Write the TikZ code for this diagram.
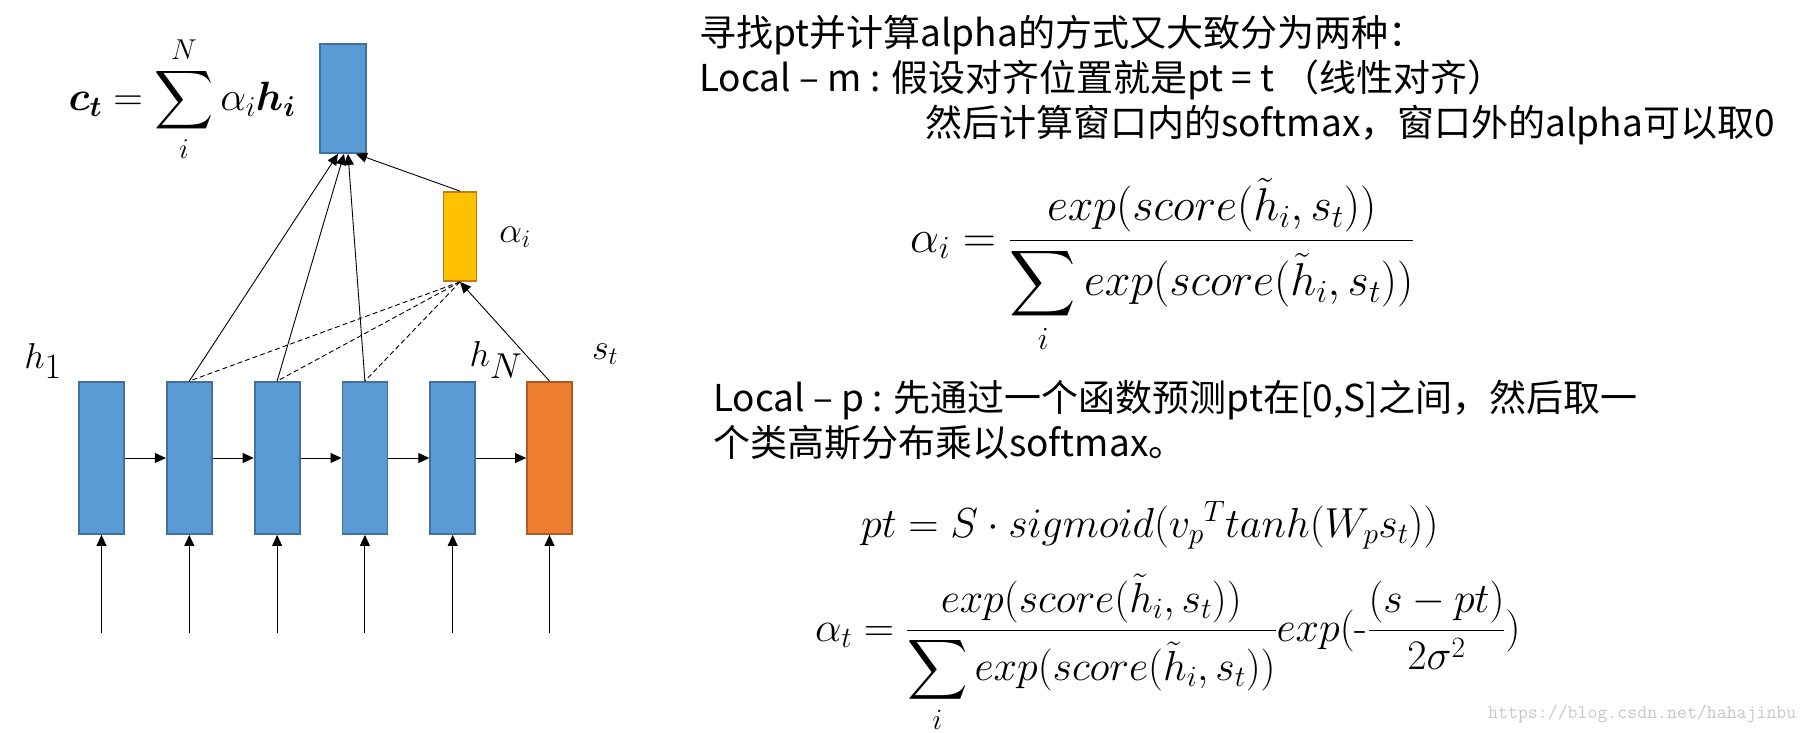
\documentclass[tikz,border=0pt]{standalone}
\usepackage{fix-cm}
\usepackage{amsmath, amssymb}
\usepackage{fontspec}
\newfontfamily\cjk{Noto Sans CJK SC}
\usetikzlibrary{positioning, arrows.meta}
\definecolor{cellblue}{HTML}{5B9BD5}
\definecolor{cellblueline}{HTML}{41719C}
\definecolor{cellorange}{HTML}{ED7D31}
\definecolor{cellorangeline}{HTML}{AE5A21}
\definecolor{cellgold}{HTML}{FFC000}
\definecolor{cellgoldline}{HTML}{C07E10}

\begin{document}
\begin{tikzpicture}[
      x=1pt, y=-1pt,
      cell/.style={draw=cellblueline, fill=cellblue, line width=1.8pt, minimum width=45pt, minimum height=152pt, inner sep=0pt},
      dec/.style={cell, draw=cellorangeline, fill=cellorange},
      attn/.style={cell, draw=cellgoldline, fill=cellgold, minimum width=33pt, minimum height=89pt},
      ctx/.style={cell, minimum width=46pt, minimum height=109pt},
      link/.style={-{Triangle[length=11pt,width=10pt]}, line width=0.9pt},
      soft/.style={dash pattern=on 5pt off 3pt, line width=0.9pt},
      lbl/.style={font=\fontsize{36}{40}\selectfont, inner sep=0pt},
      txt/.style={font=\cjk\fontsize{37}{44}\selectfont, anchor=base west, inner sep=0pt},
      eq/.style={anchor=base west, inner sep=0pt}
    ]
    \useasboundingbox (0,0) rectangle (1812,733);
    \node[cell] (h1) at (101.5,458) {};
    \node[cell, right=41pt of h1] (h2) {};
    \node[cell, right=41pt of h2] (h3) {};
    \node[cell, right=41pt of h3] (h4) {};
    \node[cell, right=41pt of h4] (h5) {};
    \node[dec, right=50pt of h5] (st) {};
    \node[attn] (alpha) at (460,236.5) {};
    \node[ctx] (ctx) at (343,98.5) {};

    \coordinate (x1) at (h1.center |- 0,633);
    \coordinate (x2) at (h2.center |- 0,633);
    \coordinate (x3) at (h3.center |- 0,633);
    \coordinate (x4) at (h4.center |- 0,633);
    \coordinate (x5) at (h5.center |- 0,633);
    \coordinate (x6) at (st.center |- 0,633);
    \draw[link] (x1) -- (h1);
    \draw[link] (x2) -- (h2);
    \draw[link] (x3) -- (h3);
    \draw[link] (x4) -- (h4);
    \draw[link] (x5) -- (h5);
    \draw[link] (x6) -- (st);
    \draw[link] (h1) -- (h2);
    \draw[link] (h2) -- (h3);
    \draw[link] (h3) -- (h4);
    \draw[link] (h4) -- (h5);
    \draw[link] (h5) -- (st);

    \draw[link] (h2.north) -- ([xshift=-5pt]ctx.south);
    \draw[link] (h3.north) -- ([xshift=1pt]ctx.south);
    \draw[link] (h4.north) -- ([xshift=5pt]ctx.south);
    \draw[link] (alpha.north) -- ([xshift=13pt]ctx.south);
    \draw[link] (st.north) -- (alpha.south);
    \draw[soft] (alpha.south) -- (h2.north);
    \draw[soft] (alpha.south) -- (h3.north);
    \draw[soft] (alpha.south) -- (h4.north);

    \node[lbl] (lh1) at (43,361) {$h_{\textstyle 1}$};
    \node[lbl] (lhN) at (496,360) {$h_{\textstyle N}$};
    \node[lbl] (lst) at (605,354) {$s_t$};
    \node[lbl] (lalpha) at (515,237) {$\alpha_i$};
    \node[font=\fontsize{41}{44}\selectfont, inner sep=0pt] (lctx) at (182,99)
      {$\displaystyle \boldsymbol{c}_{\boldsymbol{t}} = \sum_{i}^{N} \alpha_{i} \boldsymbol{h}_{\boldsymbol{i}}$};

    \node[txt] (t1) at (699,47) {寻找pt并计算alpha的方式又大致分为两种：};
    \node[txt] (t2) at (699,92) {Local – m : 假设对齐位置就是pt = t （线性对齐）};
    \node[txt] (t3) at (925,137) {然后计算窗口内的softmax，窗口外的alpha可以取0};
    \node[txt] (t4) at (713,411) {Local – p : 先通过一个函数预测pt在[0,S]之间，然后取一};
    \node[txt] (t5) at (713,456) {个类高斯分布乘以softmax。};

    \node[eq, font=\fontsize{46}{50}\selectfont] (f1) at (910,252)
      {$\alpha_i = \dfrac{exp(score(\tilde{h}_i, s_t))}{\displaystyle\sum_i exp(score(\tilde{h}_i, s_t))}$};
    \node[eq, font=\fontsize{42}{46}\selectfont] (f2) at (861,537)
      {$pt = S \cdot sigmoid(v_p{}^T tanh(W_p s_t))$};
    \node[eq, font=\fontsize{42}{46}\selectfont] (f3) at (815,641)
      {$\alpha_t = \dfrac{exp(score(\tilde{h}_i, s_t))}{\displaystyle\sum_i exp(score(\tilde{h}_i, s_t))} exp(\text{-}\dfrac{(s-pt)}{2\sigma^2})$};

    \node[anchor=base west, inner sep=0pt, font=\ttfamily\fontsize{19.3}{20}\selectfont, text=black!22] (mark) at (1488,718) {https://blog.csdn.net/hahajinbu};
    \end{tikzpicture}
\end{document}
